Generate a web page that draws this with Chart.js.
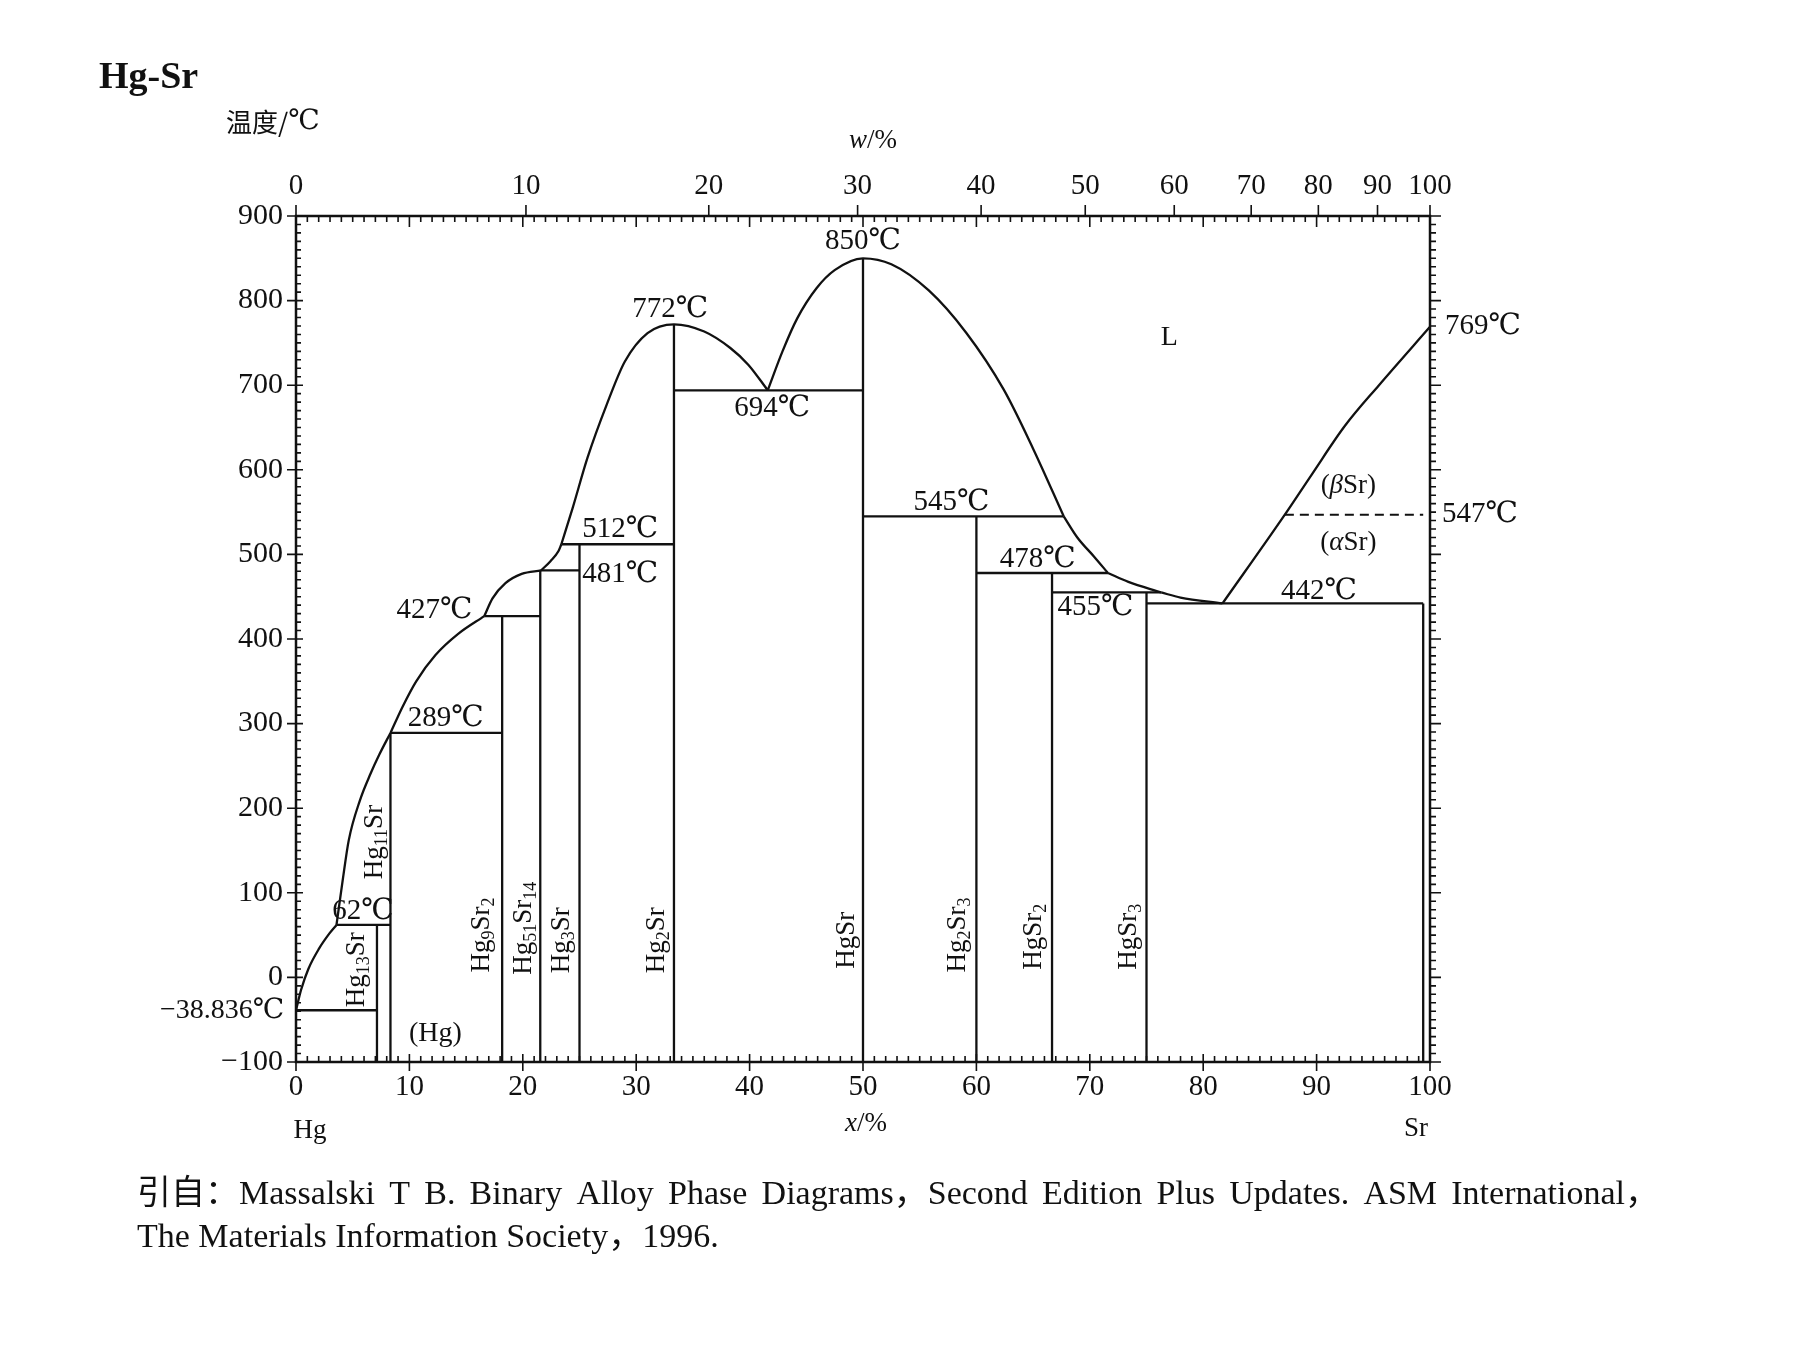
<!DOCTYPE html>
<html><head><meta charset="utf-8">
<script src="https://cdn.jsdelivr.net/npm/chart.js@4.4.0/dist/chart.umd.min.js"></script>
<style>html,body{margin:0;padding:0;background:#fff;}#wrap{width:1795px;height:1346px;}</style>
</head><body><div id="wrap"><canvas id="c" width="1795" height="1346"></canvas></div>
<script>
// ---------- DATA (at.% Sr, temperature °C) ----------
const xTicks = [0,10,20,30,40,50,60,70,80,90,100];
const yTicks = [-100,0,100,200,300,400,500,600,700,800,900];
const topTickWt = [0,10,20,30,40,50,60,70,80,90,100];
const massHg = 200.59, massSr = 87.62;

// liquidus segments
const liqA = [[0,-38.836],[0.45,-14.6],[1.09,10],[2.03,34],[2.95,52],[3.57,62]];
const liqB = [[3.57,62],[4.11,114],[4.65,162],[5.63,209],[6.58,241],[7.37,264],[8.33,289]];
const liqC = [[8.33,289],[9.4,320],[10.6,350],[12.3,381],[14.3,406],[16.6,427]];
const liqD = [[16.6,427],[17.33,448],[18.47,466],[19.9,477],[21.6,481]];
const liqE = [[21.6,481],[22.44,492],[23.15,504],[23.4,512]];
const liqF = [[23.4,512],[24.4,555],[25.7,614],[27.4,677],[29.0,728],[31.0,761.6],[33.33,772],[36.0,763.5],[38.3,744],[39.9,724],[41.6,694]];
const liqG = [[41.6,694],[42.9,740],[44.2,779],[45.9,814.6],[47.5,836],[50,850],[52.5,843],[55.8,812],[59.1,762],[62.4,695],[65.0,625],[67.7,545]];
const liqH = [[67.7,545],[68.9,520],[70.4,497],[71.6,478]];
const liqI = [[71.6,478],[73.4,467.5],[76.3,455]];
const liqJ = [[76.3,455],[78.0,449],[81.7,442]];
const liqK = [[81.7,442],[87.2,547],[89.6,595],[92.5,652],[95.5,700],[100,769]];
const solvusSr = [[99.4,442],[99.4,-100]];
const srTransition = [[87.2,547],[99.4,547]];

// compounds
const compoundNames = ['Hg_{13}Sr','Hg_{11}Sr','Hg_{9}Sr_{2}','Hg_{51}Sr_{14}','Hg_{3}Sr','Hg_{2}Sr','HgSr','Hg_{2}Sr_{3}','HgSr_{2}','HgSr_{3}'];
const compoundX   = [7.14, 8.33, 18.18, 21.54, 25, 33.33, 50, 60, 66.67, 75];
const compoundTop = [62, 289, 427, 481, 512, 772, 850, 545, 478, 455];

// invariant (horizontal) lines
const isoT    = [-38.836, 62, 289, 427, 481, 512, 694, 545, 478, 455, 442];
const isoFrom = [0, 3.57, 8.33, 16.6, 21.6, 23.4, 33.33, 50, 60, 66.67, 75];
const isoTo   = [7.14, 8.33, 18.18, 21.54, 25, 33.33, 50, 67.7, 71.6, 76.3, 99.4];

// annotation texts
const tempLabels = ['850℃','772℃','694℃','512℃','481℃','427℃','289℃','62℃','545℃','478℃','455℃','442℃'];
const tempLabelX = [50, 33, 42, 28.6, 28.6, 12.2, 13.2, 5.9, 57.8, 65.4, 70.5, 90.2];
const tempLabelT = [870, 790, 672, 530, 476, 434, 306, 78, 561, 494, 437, 456];
const compoundLabelX = [5.2, 6.75, 16.2, 19.9, 23.3, 31.7, 48.4, 58.2, 64.9, 73.3];
const compoundLabelT = [9, 160, 50, 58, 44, 44, 44, 50, 48, 48];

// ---------- CHART ----------
const FONT = "'Liberation Serif','DejaVu Serif','Noto Sans CJK SC',serif";
const CJK = "'Noto Sans CJK SC','Liberation Serif',sans-serif";
const INK = '#111';
const toXY = arr => arr.map(p => ({x:p[0], y:p[1]}));
const curve = arr => ({data:toXY(arr), showLine:true, pointRadius:0, borderColor:INK, borderWidth:2.3, cubicInterpolationMode:'monotone', clip:false});
const straight = arr => ({data:toXY(arr), showLine:true, pointRadius:0, borderColor:INK, borderWidth:2.3, tension:0, clip:false});

const datasets = [];
[liqA,liqB,liqC,liqD,liqE,liqF,liqG,liqH,liqI,liqJ,liqK].forEach(s => datasets.push(curve(s)));
compoundX.forEach((x,i) => datasets.push(straight([[x,-100],[x,compoundTop[i]]])));
isoT.forEach((t,i) => datasets.push(straight([[isoFrom[i],t],[isoTo[i],t]])));
datasets.push(straight(solvusSr));
const dash = straight(srTransition); dash.borderDash=[9,6]; dash.borderWidth=2; datasets.push(dash);

function wtToAt(w){ if(w<=0) return 0; if(w>=100) return 100; const a=w/massSr, b=(100-w)/massHg; return 100*a/(a+b); }

function txt(ctx,s,x,y,size,align,base,style){
  ctx.font = (style||'')+' '+size+'px '+FONT;
  ctx.textAlign = align||'center'; ctx.textBaseline = base||'middle';
  ctx.fillText(s,x,y);
}
function parseFormula(f){
  const parts=[];
  f.split(/(_\{\d+\})/).filter(t=>t.length).forEach(t=>{ const mm=t.match(/^_\{(\d+)\}$/); if(mm) parts.push([mm[1],true]); else parts.push([t,false]); });
  return parts;
}
function justify(ctx,line,x,y,target){
  const words=line.split(' ');
  let nat=0; words.forEach(w=>nat+=ctx.measureText(w).width);
  const gap=Math.max(ctx.measureText(' ').width,(target-nat)/(words.length-1));
  let cx=x; ctx.textAlign='left';
  words.forEach(w=>{ ctx.fillText(w,cx,y); cx+=ctx.measureText(w).width+gap; });
}

const phasePlugin = {
  id:'phase',
  beforeDraw(chart){ const c=chart.ctx; c.save(); c.fillStyle='#fff'; c.fillRect(0,0,chart.width,chart.height); c.restore(); },
  afterDatasetsDraw(chart){
    const ctx=chart.ctx, a=chart.chartArea, sx=chart.scales.x, sy=chart.scales.y;
    ctx.save();
    ctx.strokeStyle=INK; ctx.fillStyle=INK; ctx.lineCap='butt';
    ctx.lineWidth=2.5;
    ctx.strokeRect(a.left,a.top,a.right-a.left,a.bottom-a.top);
    ctx.lineWidth=1.6;
    ctx.beginPath();
    for(let v=0; v<=100; v++){
      const px=sx.getPixelForValue(v);
      const major = v%10===0;
      ctx.moveTo(px,a.bottom); ctx.lineTo(px,a.bottom-(major?8:6));
      if(major){ ctx.moveTo(px,a.bottom); ctx.lineTo(px,a.bottom+9); }
      ctx.moveTo(px,a.top); ctx.lineTo(px,a.top+(major?11:6));
    }
    topTickWt.forEach(w=>{ const px=sx.getPixelForValue(wtToAt(w)); ctx.moveTo(px,a.top); ctx.lineTo(px,a.top-11); });
    for(let t=-100; t<=900; t+=10){
      const py=sy.getPixelForValue(t); const major=(t%100===0);
      ctx.moveTo(a.left,py); ctx.lineTo(a.left+(major?7:5),py);
      if(major){ ctx.moveTo(a.left,py); ctx.lineTo(a.left-9,py); }
      ctx.moveTo(a.right,py); ctx.lineTo(a.right+(major?11:6),py);
    }
    ctx.stroke();
    // tick labels
    xTicks.forEach(v=>txt(ctx,String(v),sx.getPixelForValue(v),a.bottom+25,29));
    yTicks.forEach(v=>txt(ctx,(v<0?'−':'')+Math.abs(v),a.left-13,sy.getPixelForValue(v),30,'right'));
    topTickWt.forEach(w=>txt(ctx,String(w),sx.getPixelForValue(wtToAt(w)),a.top-30,29));
    // titles
    ctx.font='bold 38px '+FONT; ctx.textAlign='left'; ctx.textBaseline='middle'; ctx.fillText('Hg-Sr',99,78);
    ctx.font='26px '+CJK; ctx.textAlign='left'; ctx.fillText('温度/',226,122);
    const wd=ctx.measureText('温度/').width; txt(ctx,'℃',226+wd,122,28,'left');
    ctx.font='italic 27px '+FONT; const ww=ctx.measureText('w').width;
    ctx.font='27px '+FONT; const pw=ctx.measureText('/%').width;
    const wx=873-(ww+pw)/2;
    txt(ctx,'w',wx,141,27,'left','middle','italic'); txt(ctx,'/%',wx+ww,141,27,'left');
    ctx.font='italic 27px '+FONT; const xw=ctx.measureText('x').width;
    const xx=866-(xw+pw)/2;
    txt(ctx,'x',xx,1124,27,'left','middle','italic'); txt(ctx,'/%',xx+xw,1124,27,'left');
    txt(ctx,'Hg',sx.getPixelForValue(0)+14,1131,27);
    txt(ctx,'Sr',sx.getPixelForValue(100)-14,1129,27);
    // temperature annotations
    tempLabels.forEach((s,i)=>txt(ctx,s,sx.getPixelForValue(tempLabelX[i]),sy.getPixelForValue(tempLabelT[i]),29));
    txt(ctx,'−38.836℃',a.left-12,sy.getPixelForValue(-38.836),28,'right');
    txt(ctx,'769℃',a.right+15,sy.getPixelForValue(769),29,'left');
    txt(ctx,'547℃',a.right+12,sy.getPixelForValue(547),29,'left');
    // phase regions
    txt(ctx,'L',sx.getPixelForValue(77),sy.getPixelForValue(756),28);
    txt(ctx,'(Hg)',sx.getPixelForValue(12.3),sy.getPixelForValue(-67),28);
    [['β',581],['α',513]].forEach(([g,t])=>{
      const cx=sx.getPixelForValue(92.8), cy=sy.getPixelForValue(t);
      ctx.font='27px '+FONT; const w1=ctx.measureText('(').width, w3=ctx.measureText('Sr)').width;
      ctx.font='italic 27px '+FONT; const w2=ctx.measureText(g).width;
      const x0=cx-(w1+w2+w3)/2;
      txt(ctx,'(',x0,cy,27,'left'); txt(ctx,g,x0+w1,cy,27,'left','middle','italic'); txt(ctx,'Sr)',x0+w1+w2,cy,27,'left');
    });
    // rotated compound labels
    compoundNames.forEach((f,i)=>{
      const parts=parseFormula(f);
      const px=sx.getPixelForValue(compoundLabelX[i]), py=sy.getPixelForValue(compoundLabelT[i]);
      ctx.save(); ctx.translate(px,py); ctx.rotate(-Math.PI/2);
      let total=0; parts.forEach(([s,sub])=>{ ctx.font=(sub?18:27)+'px '+FONT; total+=ctx.measureText(s).width; });
      let x0=-total/2;
      parts.forEach(([s,sub])=>{
        ctx.font=(sub?18:27)+'px '+FONT; ctx.textAlign='left'; ctx.textBaseline='alphabetic';
        ctx.fillText(s,x0,sub?14:9); x0+=ctx.measureText(s).width;
      });
      ctx.restore();
    });
    // citation
    const line1='引自：Massalski T B. Binary Alloy Phase Diagrams，Second Edition Plus Updates. ASM International，';
    const line2='The Materials Information Society，1996.';
    ctx.font='34px '+FONT; ctx.textBaseline='middle';
    justify(ctx,line1,137,1195,1522);
    ctx.textAlign='left'; ctx.fillText(line2,137,1238);
    ctx.restore();
  }
};

new Chart(document.getElementById('c'),{
  type:'scatter',
  data:{datasets},
  options:{
    responsive:false, animation:false, devicePixelRatio:1,
    layout:{padding:{left:296,right:365,top:216,bottom:284}},
    plugins:{legend:{display:false},tooltip:{enabled:false}},
    scales:{
      x:{type:'linear',min:0,max:100,display:false},
      y:{type:'linear',min:-100,max:900,display:false}
    }
  },
  plugins:[phasePlugin]
});
</script></body></html>
